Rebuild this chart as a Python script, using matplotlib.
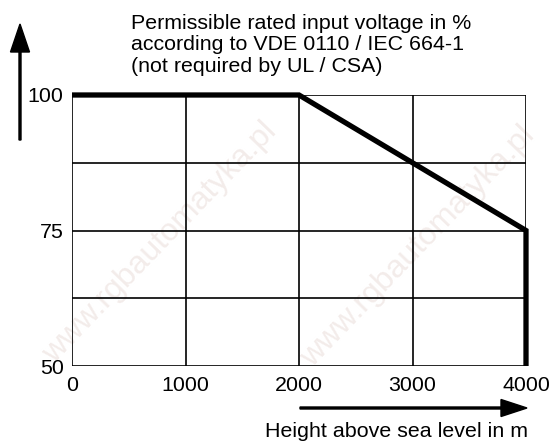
import matplotlib
matplotlib.use("Agg")
import matplotlib.pyplot as plt
from matplotlib.patches import FancyArrow

plt.rcParams['font.family'] = ['Liberation Sans', 'DejaVu Sans']

# Derating curve: permissible input voltage vs. installation altitude
height_m = [0, 2000, 4000, 4000]
voltage_pct = [100, 100, 75, 50]

x_ticks = [0, 1000, 2000, 3000, 4000]
y_ticks = [50, 75, 100]
x_grid = [0, 1000, 2000, 3000, 4000]
y_grid = [50, 62.5, 75, 87.5, 100]

title_lines = ["Permissible rated input voltage in %",
               "according to VDE 0110 / IEC 664-1",
               "(not required by UL / CSA)"]
x_text = "Height above sea level in m"
watermark = "www.rgbautomatyka.pl"

W, H = 553, 441
FS = 15.4
fig = plt.figure(figsize=(W / 100, H / 100), dpi=100)

# faint diagonal watermark behind everything
for cx, cy in [(160, 243), (418, 247)]:
    fig.text(cx / W, 1 - cy / H, watermark, rotation=46, fontsize=23,
             color='#f3ecea', ha='center', va='center', zorder=-5)

ax = fig.add_axes([72 / W, 1 - 366 / H, (526 - 72) / W, (366 - 95) / H])
ax.patch.set_alpha(0)
ax.set_xlim(0, 4000)
ax.set_ylim(50, 100)

for gx in x_grid:
    ax.axvline(gx, color='black', lw=1.2, zorder=1)
for gy in y_grid:
    ax.axhline(gy, color='black', lw=1.2, zorder=1)
for s in ax.spines.values():
    s.set_visible(False)

ax.plot(height_m, voltage_pct, color='black', lw=3.8, solid_capstyle='butt',
        solid_joinstyle='miter', clip_on=False, zorder=3)

ax.set_xticks(x_ticks)
ax.set_yticks(y_ticks)
ax.set_xticklabels([str(v) for v in x_ticks], fontsize=FS)
ax.set_yticklabels([str(v) for v in y_ticks], fontsize=FS)
ax.tick_params(axis='y', length=0, pad=6)
ax.tick_params(axis='x', length=0, pad=7)

for i, line in enumerate(title_lines):
    fig.text(131 / W, 1 - (29 + 21.5 * i) / H, line, fontsize=FS,
             ha='left', va='baseline')
fig.text(528 / W, 1 - 437 / H, x_text, fontsize=FS, ha='right', va='baseline')

# direction arrows
fig.patches.append(FancyArrow(20 / W, 1 - 140 / H, 0, (140 - 52) / H,
                              width=2 / W, head_width=19 / W, head_length=28 / H,
                              length_includes_head=False, color='black',
                              transform=fig.transFigure, figure=fig))
fig.patches.append(FancyArrow(300 / W, 1 - 408 / H, (501 - 300) / W, 0,
                              width=2 / H, head_width=17 / H, head_length=26 / W,
                              length_includes_head=False, color='black',
                              transform=fig.transFigure, figure=fig))

fig.savefig("out.png", dpi=100)
